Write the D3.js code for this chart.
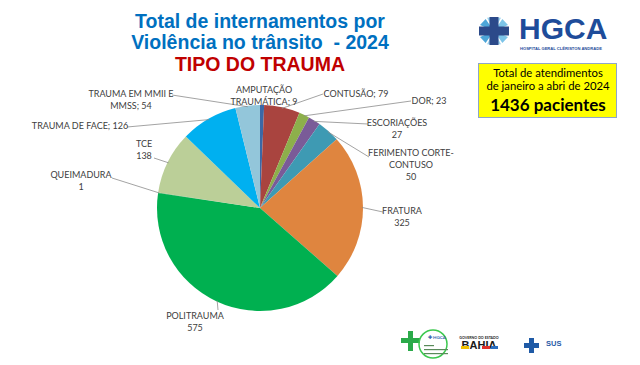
<!DOCTYPE html>
<html><head><meta charset="utf-8">
<script src="https://cdn.jsdelivr.net/npm/d3@7"></script>
<style>body{margin:0;background:#fff}svg{display:block}</style>
</head><body>
<svg id="c" width="640" height="365"></svg>
<script>
const categories = ["AMPUTAÇÃO TRAUMÁTICA","CONTUSÃO","DOR","ESCORIAÇÕES","FERIMENTO CORTE-CONTUSO","FRATURA","POLITRAUMA","QUEIMADURA","TCE","TRAUMA DE FACE","TRAUMA EM MMII E MMSS"];
const values = [9,79,23,27,50,325,575,1,138,126,54];
const colors = ["#3B68A6","#A9443F","#8DAF4B","#7A5B98","#3E9AB3","#DF853F","#00B050","#1F9E50","#BBCF98","#00B0F0","#93C6DA"];
const titleLines = ["Total de internamentos por","Violência no trânsito\u00A0 - 2024"];
const subtitle = "TIPO DO TRAUMA";
const boxLines = ["Total de atendimentos","de janeiro a abri de 2024","1436 pacientes"];

// label text layout: lines, anchor position, leader start
const labelLayout = [
  {lines:["AMPUTAÇÃO","TRAUMÁTICA; 9"], x:264, y:93, lead:null},
  {lines:["CONTUSÃO; 79"], x:356, y:97, lead:[323,94]},
  {lines:["DOR; 23"], x:429, y:104, lead:[411,101]},
  {lines:["ESCORIAÇÕES","27"], x:397, y:126, lead:[368,124]},
  {lines:["FERIMENTO CORTE-","CONTUSO","50"], x:411, y:156, lead:[369,157]},
  {lines:["FRATURA","325"], x:402, y:214, lead:[383,212]},
  {lines:["POLITRAUMA","575"], x:195, y:319, lead:[218,310]},
  {lines:["QUEIMADURA","1"], x:81, y:178, lead:[112,178]},
  {lines:["TCE","138"], x:144, y:147, lead:[154,158]},
  {lines:["TRAUMA DE FACE; 126"], x:80, y:129, lead:[127,127]},
  {lines:["TRAUMA EM MMII E","MMSS; 54"], x:131, y:97, lead:[172,95]}
];

const svg = d3.select("#c");
const cx = 260, cy = 208, R = 103;

// Title
const tg = svg.append("g").attr("font-family","'Liberation Sans',Arial,sans-serif").attr("font-weight","bold").attr("text-anchor","middle");
tg.selectAll("text.t").data(titleLines).join("text").attr("class","t")
  .attr("x",260).attr("y",(d,i)=>28+i*21).attr("font-size",19.5).attr("fill","#0070C0").text(d=>d);
tg.append("text").attr("x",260).attr("y",71).attr("font-size",19.5).attr("fill","#C00000").text(subtitle);

// Pie
const pie = d3.pie().sort(null).value(d=>d).startAngle(0).endAngle(2*Math.PI);
const arcs = pie(values);
const arc = d3.arc().innerRadius(0).outerRadius(R);
const pg = svg.append("g").attr("transform",`translate(${cx},${cy})`);
pg.selectAll("path").data(arcs).join("path").attr("d",arc).attr("fill",(d,i)=>colors[i]);

// Leader lines
const outer = d3.arc().innerRadius(R-1).outerRadius(R-1);
svg.append("g").selectAll("line").data(arcs.filter((d,i)=>labelLayout[i].lead))
  .join("line")
  .attr("x1",d=>labelLayout[d.index].lead[0]).attr("y1",d=>labelLayout[d.index].lead[1])
  .attr("x2",d=>cx+outer.centroid(d)[0]).attr("y2",d=>cy+outer.centroid(d)[1])
  .attr("stroke","#8C8C8C").attr("stroke-width",0.8);

// Labels
const lg = svg.append("g").attr("font-family","Lato,'Open Sans',sans-serif").attr("font-size",9).attr("fill","#404040").attr("text-anchor","middle");
labelLayout.forEach((L,i)=>{
  const t = lg.append("text").attr("x",L.x).attr("y",L.y);
  L.lines.forEach((s,j)=>t.append("tspan").attr("x",L.x).attr("dy",j?12:0).text(s));
});

// HGCA logo
const logo = svg.append("g");
const lc = [494,31];
[[-14,-12],[14,-12],[-14,12],[14,12]].forEach(([dx,dy],k)=>{
  logo.append("path").attr("d",`M${lc[0]},${lc[1]} L${lc[0]+dx},${lc[1]+dy*0.5} L${lc[0]+dx*0.6},${lc[1]+dy}Z`).attr("fill",k%2?"#7CC4E8":"#4DA6D8");
  logo.append("path").attr("d",`M${lc[0]},${lc[1]} L${lc[0]+dx*0.5},${lc[1]+dy*1.1} L${lc[0]+dx*0.1},${lc[1]+dy*1.15}Z`).attr("fill","#9AD2EE");
});
logo.append("rect").attr("x",lc[0]-4.5).attr("y",lc[1]-14).attr("width",9).attr("height",28).attr("fill","#2C4A8A");
logo.append("rect").attr("x",lc[0]-15).attr("y",lc[1]-4.5).attr("width",30).attr("height",9).attr("fill","#2C4A8A");
logo.append("text").attr("x",519).attr("y",39).attr("font-family","'Liberation Sans',Arial,sans-serif").attr("font-weight","bold").attr("font-size",30).attr("fill","#1E4C9A").text("HGCA");
logo.append("text").attr("x",520).attr("y",50).attr("font-family","'Liberation Sans',Arial,sans-serif").attr("font-weight","bold").attr("font-size",4.1).attr("fill","#1E4C9A").text("HOSPITAL GERAL CLÉRISTON ANDRADE");

// Yellow box
svg.append("rect").attr("x",478.5).attr("y",63.5).attr("width",138).attr("height",54).attr("fill","#FFFF00").attr("stroke","#8FA6C8").attr("stroke-width",1);
const bg = svg.append("g").attr("text-anchor","middle").attr("fill","#000").attr("font-family","Lato,'Open Sans',sans-serif");
bg.append("text").attr("x",548).attr("y",77).attr("font-size",11.3).text(boxLines[0]);
bg.append("text").attr("x",548).attr("y",90).attr("font-size",11.3).text(boxLines[1]);
bg.append("text").attr("x",548).attr("y",111).attr("font-size",17).attr("font-weight","bold").text(boxLines[2]);

// Footer logos
const f = svg.append("g");
f.append("rect").attr("x",408).attr("y",331).attr("width",5).attr("height",20).attr("fill","#2BAA4A");
f.append("rect").attr("x",401).attr("y",338).attr("width",19).attr("height",5).attr("fill","#2BAA4A");
f.append("circle").attr("cx",433).attr("cy",344).attr("r",14).attr("fill","none").attr("stroke","#3CC84E").attr("stroke-width",1.5);
f.append("text").attr("x",437).attr("y",339).attr("font-size",4.5).attr("font-family","Lato,sans-serif").attr("font-weight","bold").attr("fill","#3567B0").attr("text-anchor","middle").text("✚ HGCA");
[346,350,354].forEach((y,k)=>f.append("rect").attr("x",424).attr("y",y-1).attr("width",k==0?10:24).attr("height",1.2).attr("fill","#5A8A5A"));
f.append("text").attr("x",479).attr("y",339).attr("font-size",3.6).attr("font-family","Lato,sans-serif").attr("font-weight","bold").attr("text-anchor","middle").attr("fill","#222").text("GOVERNO DO ESTADO");
f.append("text").attr("x",479).attr("y",349).attr("font-size",11).attr("font-family","'Liberation Sans',sans-serif").attr("font-weight","bold").attr("text-anchor","middle").attr("fill","#1a1a1a").text("BAHIA");
f.append("rect").attr("x",461).attr("y",346).attr("width",8).attr("height",3).attr("fill","#F2C200");
f.append("rect").attr("x",482).attr("y",346).attr("width",8).attr("height",3).attr("fill","#E0312B");
f.append("rect").attr("x",491).attr("y",346).attr("width",7).attr("height",3).attr("fill","#2A6EC0");
f.append("rect").attr("x",529).attr("y",338).attr("width",5).attr("height",15).attr("fill","#1F5AA6");
f.append("rect").attr("x",524).attr("y",343).attr("width",15).attr("height",5).attr("fill","#1F5AA6");
f.append("text").attr("x",546).attr("y",346).attr("font-size",7.5).attr("font-family","'Liberation Sans',sans-serif").attr("font-weight","bold").attr("fill","#1F5AA6").text("SUS");
</script>
</body></html>
